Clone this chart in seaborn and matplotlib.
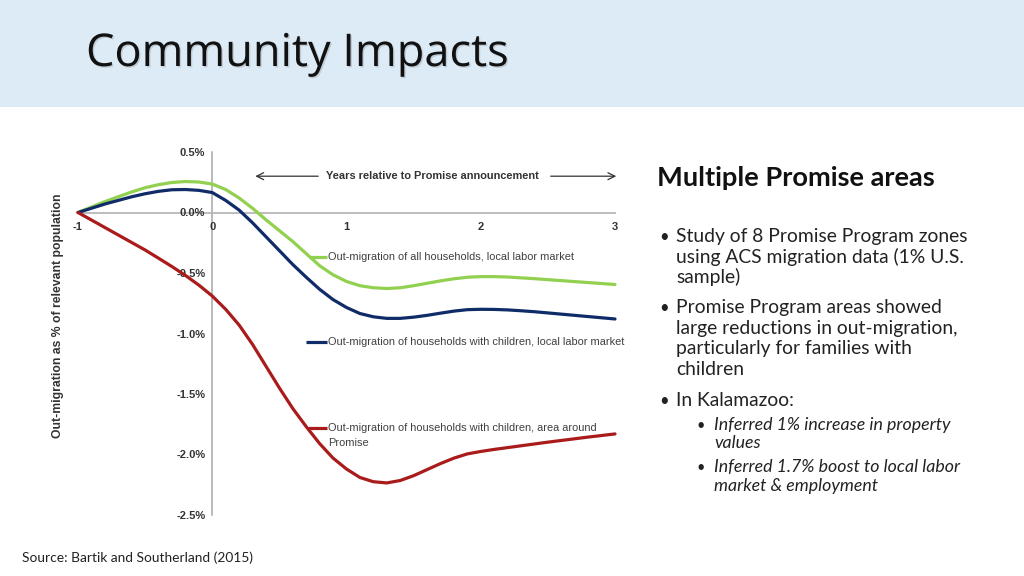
import matplotlib
matplotlib.use("Agg")
import matplotlib.pyplot as plt
import matplotlib.patheffects as pe
from matplotlib.patches import Rectangle
import pandas as pd
import seaborn as sns

# Chart data (% of relevant population)
years = [-1.0, -0.9, -0.8, -0.7, -0.6, -0.5, -0.4, -0.3, -0.2, -0.1,
         0.0, 0.1, 0.2, 0.3, 0.4, 0.5, 0.6, 0.7, 0.8, 0.9,
         1.0, 1.1, 1.2, 1.3, 1.4, 1.5, 1.6, 1.7, 1.8, 1.9,
         2.0, 2.1, 2.2, 2.3, 2.4, 2.5, 2.6, 2.7, 2.8, 2.9, 3.0]
all_households_local = [0.0, 0.045, 0.09, 0.13, 0.17, 0.205, 0.23, 0.248, 0.256, 0.252,
                        0.235, 0.19, 0.12, 0.035, -0.06, -0.15, -0.24, -0.34, -0.44, -0.515,
                        -0.57, -0.605, -0.622, -0.628, -0.622, -0.605, -0.585, -0.565, -0.548, -0.535,
                        -0.53, -0.53, -0.533, -0.54, -0.547, -0.555, -0.563, -0.571, -0.579, -0.587,
                        -0.595]
children_local = [0.0, 0.035, 0.07, 0.1, 0.13, 0.155, 0.175, 0.188, 0.19, 0.183,
                  0.165, 0.1, 0.02, -0.085, -0.2, -0.315, -0.43, -0.535, -0.635, -0.72,
                  -0.785, -0.835, -0.862, -0.875, -0.875, -0.865, -0.85, -0.832, -0.815, -0.803,
                  -0.8, -0.801, -0.805, -0.812, -0.82, -0.83, -0.84, -0.85, -0.86, -0.87,
                  -0.88]
children_area = [0.0, -0.062, -0.124, -0.186, -0.248, -0.31, -0.378, -0.447, -0.52, -0.6,
                 -0.69, -0.8, -0.93, -1.09, -1.27, -1.45, -1.62, -1.77, -1.91, -2.03,
                 -2.12, -2.19, -2.225, -2.235, -2.215, -2.175, -2.125, -2.075, -2.03, -1.995,
                 -1.975, -1.958, -1.943, -1.928, -1.913, -1.898, -1.884, -1.87, -1.856, -1.843,
                 -1.83]

series_names = ["Out-migration of all households, local labor market",
                "Out-migration of households with children, local labor market",
                "Out-migration of households with children, area around\nPromise"]
series_colors = ["#92D050", "#102C68", "#AA1B1B"]

y_ticks = [0.5, 0.0, -0.5, -1.0, -1.5, -2.0, -2.5]
y_tick_labels = ["0.5%", "0.0%", "-0.5%", "-1.0%", "-1.5%", "-2.0%", "-2.5%"]
x_ticks = [-1, 0, 1, 2, 3]
x_tick_labels = ["-1", "0", "1", "2", "3"]

title = "Community Impacts"
side_heading = "Multiple Promise areas"
main_bullets = [
    ["Study of 8 Promise Program zones", "using ACS migration data (1% U.S.", "sample)"],
    ["Promise Program areas showed", "large reductions in out-migration,",
     "particularly for families with", "children"],
    ["In Kalamazoo:"],
]
sub_bullets = [
    ["Inferred 1% increase in property", "values"],
    ["Inferred 1.7% boost to local labor", "market & employment"],
]
source = "Source: Bartik and Southerland (2015)"

# Long table for seaborn
frames = []
for name, vals in zip(series_names, [all_households_local, children_local, children_area]):
    frames.append(pd.DataFrame({"year": years, "value": vals, "series": name}))
df = pd.concat(frames, ignore_index=True)

sns.set_style("white")
plt.rcParams["font.family"] = ["Liberation Sans", "DejaVu Sans"]
plt.rcParams["axes.unicode_minus"] = False

W, H = 1024, 576
fig = plt.figure(figsize=(W / 100, H / 100), dpi=100)
fig.patch.set_facecolor("white")

# header band
fig.patches.append(Rectangle((0, 1 - 107 / H), 1, 107 / H, transform=fig.transFigure,
                             facecolor="#DDEBF7", edgecolor="none", zorder=0))
fig.text(86 / W, 1 - 66 / H, title, fontsize=32.5, color="#111111", va="baseline",
         family=["Open Sans", "DejaVu Sans"],
         path_effects=[pe.withSimplePatchShadow(offset=(1, -1), shadow_rgbFace="#9aa5ad", alpha=0.45)])

# chart
ax = fig.add_axes([78 / W, 1 - 515 / H, 537 / W, 363 / H])
sns.lineplot(data=df, x="year", y="value", hue="series", hue_order=series_names,
             palette=series_colors, legend=False, ax=ax, linewidth=2.3)
for ln in ax.lines:
    ln.set_clip_on(False)
    ln.set_solid_joinstyle("round")
    ln.set_solid_capstyle("round")

ax.set_xlim(-1, 3)
ax.set_ylim(-2.5, 0.5)
ax.set_facecolor("none")
for s in ["top", "right"]:
    ax.spines[s].set_visible(False)
ax.spines["left"].set_position(("data", 0))
ax.spines["bottom"].set_position(("data", 0))
ax.spines["left"].set_color("#A6A6A6")
ax.spines["bottom"].set_color("#B8B8B8")
ax.spines["left"].set_linewidth(1.1)
ax.spines["bottom"].set_linewidth(1.3)
ax.spines["left"].set_zorder(0.5)
ax.spines["bottom"].set_zorder(0.5)

ax.set_yticks(y_ticks)
ax.set_yticklabels(y_tick_labels)
ax.set_xticks(x_ticks)
ax.set_xticklabels(x_tick_labels)
ax.tick_params(axis="both", direction="out", length=3, width=1, color="#A6A6A6",
               labelsize=8, labelcolor="#333333", pad=2)
ax.tick_params(axis="x", pad=4)
for lbl in ax.get_xticklabels() + ax.get_yticklabels():
    lbl.set_fontweight("bold")
ax.set_xlabel("")
ax.set_ylabel("Out-migration as % of relevant population", fontsize=8.8, fontweight="bold",
              color="#333333")
ax.yaxis.set_label_coords(-0.027, 0.55)

# "Years relative to Promise announcement" with arrows
ax.text(1.64, 0.30, "Years relative to Promise announcement", ha="center", va="center",
        fontsize=7.9, fontweight="bold", color="#333333")
arrow_kw = dict(arrowstyle="->,head_length=0.5,head_width=0.25", color="#333333", lw=0.9)
ax.annotate("", xy=(0.30, 0.30), xytext=(0.81, 0.30), arrowprops=arrow_kw)
ax.annotate("", xy=(3.03, 0.30), xytext=(2.50, 0.30), arrowprops=arrow_kw,
            annotation_clip=False)

# series labels with short leader lines
label_y = [-0.364, -1.074, -1.785]
label_x0 = [0.72, 0.70, 0.71]
for name, color, yv, x0 in zip(series_names, series_colors, label_y, label_x0):
    ax.plot([x0, 0.855], [yv, yv], color=color, lw=2.3, solid_capstyle="butt")
    first, *rest = name.split("\n")
    ax.text(0.86, yv, first, ha="left", va="center", fontsize=7.9, color="#404040")
    for i, r in enumerate(rest):
        ax.text(0.86, yv - 0.118 * (i + 1), r, ha="left", va="center", fontsize=7.9,
                color="#404040")

# right-hand text
side_font = ["Lato", "DejaVu Sans"]
fig.text(657 / W, 1 - 186 / H, side_heading, fontsize=19.6, fontweight="bold",
         color="#111111", va="baseline", family=side_font)
para_start = [242, 313, 406]
for start, lines in zip(para_start, main_bullets):
    fig.text(659 / W, 1 - start / H, "\u2022", fontsize=12, color="#222222", va="baseline",
             family=side_font)
    for i, line in enumerate(lines):
        fig.text(676 / W, 1 - (start + 20.7 * i) / H, line, fontsize=13.9, color="#222222",
                 va="baseline", family=side_font)
sub_start = [430, 472]
for start, lines in zip(sub_start, sub_bullets):
    fig.text(697 / W, 1 - start / H, "\u2022", fontsize=10.5, color="#222222", va="baseline",
             family=side_font)
    for i, line in enumerate(lines):
        fig.text(714 / W, 1 - (start + 18.5 * i) / H, line, fontsize=12.8, color="#222222",
                 va="baseline", style="italic", family=side_font)

fig.text(22 / W, 1 - 562 / H, source, fontsize=9.9, color="#222222", va="baseline",
         family=side_font)

fig.savefig("out.png", dpi=100)
